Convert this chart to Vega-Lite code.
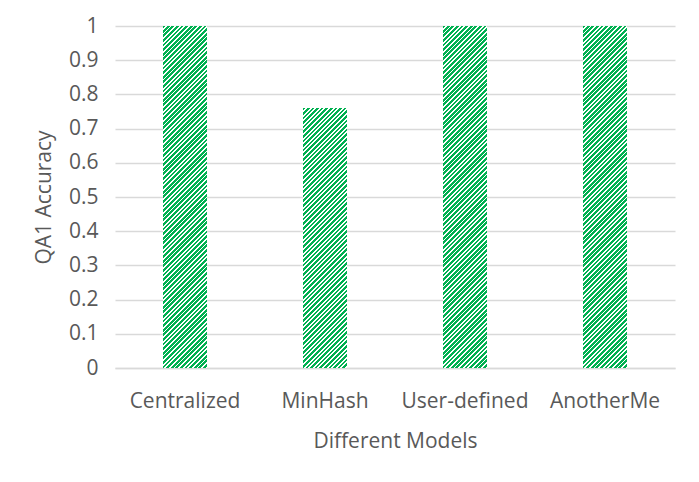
{
 "$schema": "https://vega.github.io/schema/vega-lite/v6.json",
 "width": 560,
 "height": 342,
 "autosize": {"type": "none"},
 "padding": {"left": 115, "top": 26, "right": 24, "bottom": 114},
 "background": "white",
 "config": {"view": {"stroke": null}, "font": "Open Sans"},
 "data": {"values": [
  {"model": "Centralized", "accuracy": 1},
  {"model": "MinHash", "accuracy": 0.76},
  {"model": "User-defined", "accuracy": 1},
  {"model": "AnotherMe", "accuracy": 1}
 ]},
 "mark": {"type": "bar"},
 "encoding": {
  "x": {"field": "model", "type": "nominal", "sort": null,
   "scale": {"paddingInner": 0.6857, "paddingOuter": 0.3429},
   "axis": {"title": "Different Models", "labelAngle": 0, "labelFont": "Open Sans", "labelFontSize": 21, "labelColor": "#595959", "labelPadding": 22, "ticks": false, "domainColor": "#d9d9d9", "domainWidth": 1.3, "titleFont": "Open Sans", "titleFontSize": 21, "titleFontWeight": "normal", "titleColor": "#595959", "titlePadding": 19}},
  "y": {"field": "accuracy", "type": "quantitative",
   "scale": {"domain": [0, 1], "nice": false},
   "axis": {"title": "QA1 Accuracy", "values": [0, 0.1, 0.2, 0.3, 0.4, 0.5, 0.6, 0.7, 0.8, 0.9, 1], "format": ".1~f", "labelFont": "Open Sans", "labelFontSize": 21, "labelColor": "#595959", "labelPadding": 17, "ticks": false, "domain": false, "grid": true, "gridColor": "#d9d9d9", "gridWidth": 1.3, "titleFont": "Open Sans", "titleFontSize": 21, "titleFontWeight": "normal", "titleColor": "#595959", "titlePadding": 14}},
  "fill": {
   "condition": {"test": "datum.accuracy < 1", "value": {"gradient": "linear", "x1": -0.00568, "y1": 0, "x2": 0.28557, "y2": 1.72048, "stops": [
{"offset":0,"color":"#00b050"},{"offset":0.006,"color":"#00b050"},{"offset":0.006,"color":"#fff"},{"offset":0.01,"color":"#fff"},
{"offset":0.01,"color":"#00b050"},{"offset":0.016,"color":"#00b050"},{"offset":0.016,"color":"#fff"},{"offset":0.02,"color":"#fff"},
{"offset":0.02,"color":"#00b050"},{"offset":0.026,"color":"#00b050"},{"offset":0.026,"color":"#fff"},{"offset":0.03,"color":"#fff"},
{"offset":0.03,"color":"#00b050"},{"offset":0.036,"color":"#00b050"},{"offset":0.036,"color":"#fff"},{"offset":0.04,"color":"#fff"},
{"offset":0.04,"color":"#00b050"},{"offset":0.046,"color":"#00b050"},{"offset":0.046,"color":"#fff"},{"offset":0.05,"color":"#fff"},
{"offset":0.05,"color":"#00b050"},{"offset":0.056,"color":"#00b050"},{"offset":0.056,"color":"#fff"},{"offset":0.06,"color":"#fff"},
{"offset":0.06,"color":"#00b050"},{"offset":0.066,"color":"#00b050"},{"offset":0.066,"color":"#fff"},{"offset":0.07,"color":"#fff"},
{"offset":0.07,"color":"#00b050"},{"offset":0.076,"color":"#00b050"},{"offset":0.076,"color":"#fff"},{"offset":0.08,"color":"#fff"},
{"offset":0.08,"color":"#00b050"},{"offset":0.086,"color":"#00b050"},{"offset":0.086,"color":"#fff"},{"offset":0.09,"color":"#fff"},
{"offset":0.09,"color":"#00b050"},{"offset":0.096,"color":"#00b050"},{"offset":0.096,"color":"#fff"},{"offset":0.1,"color":"#fff"},
{"offset":0.1,"color":"#00b050"},{"offset":0.106,"color":"#00b050"},{"offset":0.106,"color":"#fff"},{"offset":0.11,"color":"#fff"},
{"offset":0.11,"color":"#00b050"},{"offset":0.116,"color":"#00b050"},{"offset":0.116,"color":"#fff"},{"offset":0.12,"color":"#fff"},
{"offset":0.12,"color":"#00b050"},{"offset":0.126,"color":"#00b050"},{"offset":0.126,"color":"#fff"},{"offset":0.13,"color":"#fff"},
{"offset":0.13,"color":"#00b050"},{"offset":0.136,"color":"#00b050"},{"offset":0.136,"color":"#fff"},{"offset":0.14,"color":"#fff"},
{"offset":0.14,"color":"#00b050"},{"offset":0.146,"color":"#00b050"},{"offset":0.146,"color":"#fff"},{"offset":0.15,"color":"#fff"},
{"offset":0.15,"color":"#00b050"},{"offset":0.156,"color":"#00b050"},{"offset":0.156,"color":"#fff"},{"offset":0.16,"color":"#fff"},
{"offset":0.16,"color":"#00b050"},{"offset":0.166,"color":"#00b050"},{"offset":0.166,"color":"#fff"},{"offset":0.17,"color":"#fff"},
{"offset":0.17,"color":"#00b050"},{"offset":0.176,"color":"#00b050"},{"offset":0.176,"color":"#fff"},{"offset":0.18,"color":"#fff"},
{"offset":0.18,"color":"#00b050"},{"offset":0.186,"color":"#00b050"},{"offset":0.186,"color":"#fff"},{"offset":0.19,"color":"#fff"},
{"offset":0.19,"color":"#00b050"},{"offset":0.196,"color":"#00b050"},{"offset":0.196,"color":"#fff"},{"offset":0.2,"color":"#fff"},
{"offset":0.2,"color":"#00b050"},{"offset":0.206,"color":"#00b050"},{"offset":0.206,"color":"#fff"},{"offset":0.21,"color":"#fff"},
{"offset":0.21,"color":"#00b050"},{"offset":0.216,"color":"#00b050"},{"offset":0.216,"color":"#fff"},{"offset":0.22,"color":"#fff"},
{"offset":0.22,"color":"#00b050"},{"offset":0.226,"color":"#00b050"},{"offset":0.226,"color":"#fff"},{"offset":0.23,"color":"#fff"},
{"offset":0.23,"color":"#00b050"},{"offset":0.236,"color":"#00b050"},{"offset":0.236,"color":"#fff"},{"offset":0.24,"color":"#fff"},
{"offset":0.24,"color":"#00b050"},{"offset":0.246,"color":"#00b050"},{"offset":0.246,"color":"#fff"},{"offset":0.25,"color":"#fff"},
{"offset":0.25,"color":"#00b050"},{"offset":0.256,"color":"#00b050"},{"offset":0.256,"color":"#fff"},{"offset":0.26,"color":"#fff"},
{"offset":0.26,"color":"#00b050"},{"offset":0.266,"color":"#00b050"},{"offset":0.266,"color":"#fff"},{"offset":0.27,"color":"#fff"},
{"offset":0.27,"color":"#00b050"},{"offset":0.276,"color":"#00b050"},{"offset":0.276,"color":"#fff"},{"offset":0.28,"color":"#fff"},
{"offset":0.28,"color":"#00b050"},{"offset":0.286,"color":"#00b050"},{"offset":0.286,"color":"#fff"},{"offset":0.29,"color":"#fff"},
{"offset":0.29,"color":"#00b050"},{"offset":0.296,"color":"#00b050"},{"offset":0.296,"color":"#fff"},{"offset":0.3,"color":"#fff"},
{"offset":0.3,"color":"#00b050"},{"offset":0.306,"color":"#00b050"},{"offset":0.306,"color":"#fff"},{"offset":0.31,"color":"#fff"},
{"offset":0.31,"color":"#00b050"},{"offset":0.316,"color":"#00b050"},{"offset":0.316,"color":"#fff"},{"offset":0.32,"color":"#fff"},
{"offset":0.32,"color":"#00b050"},{"offset":0.326,"color":"#00b050"},{"offset":0.326,"color":"#fff"},{"offset":0.33,"color":"#fff"},
{"offset":0.33,"color":"#00b050"},{"offset":0.336,"color":"#00b050"},{"offset":0.336,"color":"#fff"},{"offset":0.34,"color":"#fff"},
{"offset":0.34,"color":"#00b050"},{"offset":0.346,"color":"#00b050"},{"offset":0.346,"color":"#fff"},{"offset":0.35,"color":"#fff"},
{"offset":0.35,"color":"#00b050"},{"offset":0.356,"color":"#00b050"},{"offset":0.356,"color":"#fff"},{"offset":0.36,"color":"#fff"},
{"offset":0.36,"color":"#00b050"},{"offset":0.366,"color":"#00b050"},{"offset":0.366,"color":"#fff"},{"offset":0.37,"color":"#fff"},
{"offset":0.37,"color":"#00b050"},{"offset":0.376,"color":"#00b050"},{"offset":0.376,"color":"#fff"},{"offset":0.38,"color":"#fff"},
{"offset":0.38,"color":"#00b050"},{"offset":0.386,"color":"#00b050"},{"offset":0.386,"color":"#fff"},{"offset":0.39,"color":"#fff"},
{"offset":0.39,"color":"#00b050"},{"offset":0.396,"color":"#00b050"},{"offset":0.396,"color":"#fff"},{"offset":0.4,"color":"#fff"},
{"offset":0.4,"color":"#00b050"},{"offset":0.406,"color":"#00b050"},{"offset":0.406,"color":"#fff"},{"offset":0.41,"color":"#fff"},
{"offset":0.41,"color":"#00b050"},{"offset":0.416,"color":"#00b050"},{"offset":0.416,"color":"#fff"},{"offset":0.42,"color":"#fff"},
{"offset":0.42,"color":"#00b050"},{"offset":0.426,"color":"#00b050"},{"offset":0.426,"color":"#fff"},{"offset":0.43,"color":"#fff"},
{"offset":0.43,"color":"#00b050"},{"offset":0.436,"color":"#00b050"},{"offset":0.436,"color":"#fff"},{"offset":0.44,"color":"#fff"},
{"offset":0.44,"color":"#00b050"},{"offset":0.446,"color":"#00b050"},{"offset":0.446,"color":"#fff"},{"offset":0.45,"color":"#fff"},
{"offset":0.45,"color":"#00b050"},{"offset":0.456,"color":"#00b050"},{"offset":0.456,"color":"#fff"},{"offset":0.46,"color":"#fff"},
{"offset":0.46,"color":"#00b050"},{"offset":0.466,"color":"#00b050"},{"offset":0.466,"color":"#fff"},{"offset":0.47,"color":"#fff"},
{"offset":0.47,"color":"#00b050"},{"offset":0.476,"color":"#00b050"},{"offset":0.476,"color":"#fff"},{"offset":0.48,"color":"#fff"},
{"offset":0.48,"color":"#00b050"},{"offset":0.486,"color":"#00b050"},{"offset":0.486,"color":"#fff"},{"offset":0.49,"color":"#fff"},
{"offset":0.49,"color":"#00b050"},{"offset":0.496,"color":"#00b050"},{"offset":0.496,"color":"#fff"},{"offset":0.5,"color":"#fff"},
{"offset":0.5,"color":"#00b050"},{"offset":0.506,"color":"#00b050"},{"offset":0.506,"color":"#fff"},{"offset":0.51,"color":"#fff"},
{"offset":0.51,"color":"#00b050"},{"offset":0.516,"color":"#00b050"},{"offset":0.516,"color":"#fff"},{"offset":0.52,"color":"#fff"},
{"offset":0.52,"color":"#00b050"},{"offset":0.526,"color":"#00b050"},{"offset":0.526,"color":"#fff"},{"offset":0.53,"color":"#fff"},
{"offset":0.53,"color":"#00b050"},{"offset":0.536,"color":"#00b050"},{"offset":0.536,"color":"#fff"},{"offset":0.54,"color":"#fff"},
{"offset":0.54,"color":"#00b050"},{"offset":0.546,"color":"#00b050"},{"offset":0.546,"color":"#fff"},{"offset":0.55,"color":"#fff"},
{"offset":0.55,"color":"#00b050"},{"offset":0.556,"color":"#00b050"},{"offset":0.556,"color":"#fff"},{"offset":0.56,"color":"#fff"},
{"offset":0.56,"color":"#00b050"},{"offset":0.566,"color":"#00b050"},{"offset":0.566,"color":"#fff"},{"offset":0.57,"color":"#fff"},
{"offset":0.57,"color":"#00b050"},{"offset":0.576,"color":"#00b050"},{"offset":0.576,"color":"#fff"},{"offset":0.58,"color":"#fff"},
{"offset":0.58,"color":"#00b050"},{"offset":0.586,"color":"#00b050"},{"offset":0.586,"color":"#fff"},{"offset":0.59,"color":"#fff"},
{"offset":0.59,"color":"#00b050"},{"offset":0.596,"color":"#00b050"},{"offset":0.596,"color":"#fff"},{"offset":0.6,"color":"#fff"},
{"offset":0.6,"color":"#00b050"},{"offset":0.606,"color":"#00b050"},{"offset":0.606,"color":"#fff"},{"offset":0.61,"color":"#fff"},
{"offset":0.61,"color":"#00b050"},{"offset":0.616,"color":"#00b050"},{"offset":0.616,"color":"#fff"},{"offset":0.62,"color":"#fff"},
{"offset":0.62,"color":"#00b050"},{"offset":0.626,"color":"#00b050"},{"offset":0.626,"color":"#fff"},{"offset":0.63,"color":"#fff"},
{"offset":0.63,"color":"#00b050"},{"offset":0.636,"color":"#00b050"},{"offset":0.636,"color":"#fff"},{"offset":0.64,"color":"#fff"},
{"offset":0.64,"color":"#00b050"},{"offset":0.646,"color":"#00b050"},{"offset":0.646,"color":"#fff"},{"offset":0.65,"color":"#fff"},
{"offset":0.65,"color":"#00b050"},{"offset":0.656,"color":"#00b050"},{"offset":0.656,"color":"#fff"},{"offset":0.66,"color":"#fff"},
{"offset":0.66,"color":"#00b050"},{"offset":0.666,"color":"#00b050"},{"offset":0.666,"color":"#fff"},{"offset":0.67,"color":"#fff"}
   ]}},
   "value": {"gradient": "linear", "x1": -0.00568, "y1": 0, "x2": 0.16455, "y2": 1.32313, "stops": [
{"offset":0,"color":"#00b050"},{"offset":0.006,"color":"#00b050"},{"offset":0.006,"color":"#fff"},{"offset":0.01,"color":"#fff"},
{"offset":0.01,"color":"#00b050"},{"offset":0.016,"color":"#00b050"},{"offset":0.016,"color":"#fff"},{"offset":0.02,"color":"#fff"},
{"offset":0.02,"color":"#00b050"},{"offset":0.026,"color":"#00b050"},{"offset":0.026,"color":"#fff"},{"offset":0.03,"color":"#fff"},
{"offset":0.03,"color":"#00b050"},{"offset":0.036,"color":"#00b050"},{"offset":0.036,"color":"#fff"},{"offset":0.04,"color":"#fff"},
{"offset":0.04,"color":"#00b050"},{"offset":0.046,"color":"#00b050"},{"offset":0.046,"color":"#fff"},{"offset":0.05,"color":"#fff"},
{"offset":0.05,"color":"#00b050"},{"offset":0.056,"color":"#00b050"},{"offset":0.056,"color":"#fff"},{"offset":0.06,"color":"#fff"},
{"offset":0.06,"color":"#00b050"},{"offset":0.066,"color":"#00b050"},{"offset":0.066,"color":"#fff"},{"offset":0.07,"color":"#fff"},
{"offset":0.07,"color":"#00b050"},{"offset":0.076,"color":"#00b050"},{"offset":0.076,"color":"#fff"},{"offset":0.08,"color":"#fff"},
{"offset":0.08,"color":"#00b050"},{"offset":0.086,"color":"#00b050"},{"offset":0.086,"color":"#fff"},{"offset":0.09,"color":"#fff"},
{"offset":0.09,"color":"#00b050"},{"offset":0.096,"color":"#00b050"},{"offset":0.096,"color":"#fff"},{"offset":0.1,"color":"#fff"},
{"offset":0.1,"color":"#00b050"},{"offset":0.106,"color":"#00b050"},{"offset":0.106,"color":"#fff"},{"offset":0.11,"color":"#fff"},
{"offset":0.11,"color":"#00b050"},{"offset":0.116,"color":"#00b050"},{"offset":0.116,"color":"#fff"},{"offset":0.12,"color":"#fff"},
{"offset":0.12,"color":"#00b050"},{"offset":0.126,"color":"#00b050"},{"offset":0.126,"color":"#fff"},{"offset":0.13,"color":"#fff"},
{"offset":0.13,"color":"#00b050"},{"offset":0.136,"color":"#00b050"},{"offset":0.136,"color":"#fff"},{"offset":0.14,"color":"#fff"},
{"offset":0.14,"color":"#00b050"},{"offset":0.146,"color":"#00b050"},{"offset":0.146,"color":"#fff"},{"offset":0.15,"color":"#fff"},
{"offset":0.15,"color":"#00b050"},{"offset":0.156,"color":"#00b050"},{"offset":0.156,"color":"#fff"},{"offset":0.16,"color":"#fff"},
{"offset":0.16,"color":"#00b050"},{"offset":0.166,"color":"#00b050"},{"offset":0.166,"color":"#fff"},{"offset":0.17,"color":"#fff"},
{"offset":0.17,"color":"#00b050"},{"offset":0.176,"color":"#00b050"},{"offset":0.176,"color":"#fff"},{"offset":0.18,"color":"#fff"},
{"offset":0.18,"color":"#00b050"},{"offset":0.186,"color":"#00b050"},{"offset":0.186,"color":"#fff"},{"offset":0.19,"color":"#fff"},
{"offset":0.19,"color":"#00b050"},{"offset":0.196,"color":"#00b050"},{"offset":0.196,"color":"#fff"},{"offset":0.2,"color":"#fff"},
{"offset":0.2,"color":"#00b050"},{"offset":0.206,"color":"#00b050"},{"offset":0.206,"color":"#fff"},{"offset":0.21,"color":"#fff"},
{"offset":0.21,"color":"#00b050"},{"offset":0.216,"color":"#00b050"},{"offset":0.216,"color":"#fff"},{"offset":0.22,"color":"#fff"},
{"offset":0.22,"color":"#00b050"},{"offset":0.226,"color":"#00b050"},{"offset":0.226,"color":"#fff"},{"offset":0.23,"color":"#fff"},
{"offset":0.23,"color":"#00b050"},{"offset":0.236,"color":"#00b050"},{"offset":0.236,"color":"#fff"},{"offset":0.24,"color":"#fff"},
{"offset":0.24,"color":"#00b050"},{"offset":0.246,"color":"#00b050"},{"offset":0.246,"color":"#fff"},{"offset":0.25,"color":"#fff"},
{"offset":0.25,"color":"#00b050"},{"offset":0.256,"color":"#00b050"},{"offset":0.256,"color":"#fff"},{"offset":0.26,"color":"#fff"},
{"offset":0.26,"color":"#00b050"},{"offset":0.266,"color":"#00b050"},{"offset":0.266,"color":"#fff"},{"offset":0.27,"color":"#fff"},
{"offset":0.27,"color":"#00b050"},{"offset":0.276,"color":"#00b050"},{"offset":0.276,"color":"#fff"},{"offset":0.28,"color":"#fff"},
{"offset":0.28,"color":"#00b050"},{"offset":0.286,"color":"#00b050"},{"offset":0.286,"color":"#fff"},{"offset":0.29,"color":"#fff"},
{"offset":0.29,"color":"#00b050"},{"offset":0.296,"color":"#00b050"},{"offset":0.296,"color":"#fff"},{"offset":0.3,"color":"#fff"},
{"offset":0.3,"color":"#00b050"},{"offset":0.306,"color":"#00b050"},{"offset":0.306,"color":"#fff"},{"offset":0.31,"color":"#fff"},
{"offset":0.31,"color":"#00b050"},{"offset":0.316,"color":"#00b050"},{"offset":0.316,"color":"#fff"},{"offset":0.32,"color":"#fff"},
{"offset":0.32,"color":"#00b050"},{"offset":0.326,"color":"#00b050"},{"offset":0.326,"color":"#fff"},{"offset":0.33,"color":"#fff"},
{"offset":0.33,"color":"#00b050"},{"offset":0.336,"color":"#00b050"},{"offset":0.336,"color":"#fff"},{"offset":0.34,"color":"#fff"},
{"offset":0.34,"color":"#00b050"},{"offset":0.346,"color":"#00b050"},{"offset":0.346,"color":"#fff"},{"offset":0.35,"color":"#fff"},
{"offset":0.35,"color":"#00b050"},{"offset":0.356,"color":"#00b050"},{"offset":0.356,"color":"#fff"},{"offset":0.36,"color":"#fff"},
{"offset":0.36,"color":"#00b050"},{"offset":0.366,"color":"#00b050"},{"offset":0.366,"color":"#fff"},{"offset":0.37,"color":"#fff"},
{"offset":0.37,"color":"#00b050"},{"offset":0.376,"color":"#00b050"},{"offset":0.376,"color":"#fff"},{"offset":0.38,"color":"#fff"},
{"offset":0.38,"color":"#00b050"},{"offset":0.386,"color":"#00b050"},{"offset":0.386,"color":"#fff"},{"offset":0.39,"color":"#fff"},
{"offset":0.39,"color":"#00b050"},{"offset":0.396,"color":"#00b050"},{"offset":0.396,"color":"#fff"},{"offset":0.4,"color":"#fff"},
{"offset":0.4,"color":"#00b050"},{"offset":0.406,"color":"#00b050"},{"offset":0.406,"color":"#fff"},{"offset":0.41,"color":"#fff"},
{"offset":0.41,"color":"#00b050"},{"offset":0.416,"color":"#00b050"},{"offset":0.416,"color":"#fff"},{"offset":0.42,"color":"#fff"},
{"offset":0.42,"color":"#00b050"},{"offset":0.426,"color":"#00b050"},{"offset":0.426,"color":"#fff"},{"offset":0.43,"color":"#fff"},
{"offset":0.43,"color":"#00b050"},{"offset":0.436,"color":"#00b050"},{"offset":0.436,"color":"#fff"},{"offset":0.44,"color":"#fff"},
{"offset":0.44,"color":"#00b050"},{"offset":0.446,"color":"#00b050"},{"offset":0.446,"color":"#fff"},{"offset":0.45,"color":"#fff"},
{"offset":0.45,"color":"#00b050"},{"offset":0.456,"color":"#00b050"},{"offset":0.456,"color":"#fff"},{"offset":0.46,"color":"#fff"},
{"offset":0.46,"color":"#00b050"},{"offset":0.466,"color":"#00b050"},{"offset":0.466,"color":"#fff"},{"offset":0.47,"color":"#fff"},
{"offset":0.47,"color":"#00b050"},{"offset":0.476,"color":"#00b050"},{"offset":0.476,"color":"#fff"},{"offset":0.48,"color":"#fff"},
{"offset":0.48,"color":"#00b050"},{"offset":0.486,"color":"#00b050"},{"offset":0.486,"color":"#fff"},{"offset":0.49,"color":"#fff"},
{"offset":0.49,"color":"#00b050"},{"offset":0.496,"color":"#00b050"},{"offset":0.496,"color":"#fff"},{"offset":0.5,"color":"#fff"},
{"offset":0.5,"color":"#00b050"},{"offset":0.506,"color":"#00b050"},{"offset":0.506,"color":"#fff"},{"offset":0.51,"color":"#fff"},
{"offset":0.51,"color":"#00b050"},{"offset":0.516,"color":"#00b050"},{"offset":0.516,"color":"#fff"},{"offset":0.52,"color":"#fff"},
{"offset":0.52,"color":"#00b050"},{"offset":0.526,"color":"#00b050"},{"offset":0.526,"color":"#fff"},{"offset":0.53,"color":"#fff"},
{"offset":0.53,"color":"#00b050"},{"offset":0.536,"color":"#00b050"},{"offset":0.536,"color":"#fff"},{"offset":0.54,"color":"#fff"},
{"offset":0.54,"color":"#00b050"},{"offset":0.546,"color":"#00b050"},{"offset":0.546,"color":"#fff"},{"offset":0.55,"color":"#fff"},
{"offset":0.55,"color":"#00b050"},{"offset":0.556,"color":"#00b050"},{"offset":0.556,"color":"#fff"},{"offset":0.56,"color":"#fff"},
{"offset":0.56,"color":"#00b050"},{"offset":0.566,"color":"#00b050"},{"offset":0.566,"color":"#fff"},{"offset":0.57,"color":"#fff"},
{"offset":0.57,"color":"#00b050"},{"offset":0.576,"color":"#00b050"},{"offset":0.576,"color":"#fff"},{"offset":0.58,"color":"#fff"},
{"offset":0.58,"color":"#00b050"},{"offset":0.586,"color":"#00b050"},{"offset":0.586,"color":"#fff"},{"offset":0.59,"color":"#fff"},
{"offset":0.59,"color":"#00b050"},{"offset":0.596,"color":"#00b050"},{"offset":0.596,"color":"#fff"},{"offset":0.6,"color":"#fff"},
{"offset":0.6,"color":"#00b050"},{"offset":0.606,"color":"#00b050"},{"offset":0.606,"color":"#fff"},{"offset":0.61,"color":"#fff"},
{"offset":0.61,"color":"#00b050"},{"offset":0.616,"color":"#00b050"},{"offset":0.616,"color":"#fff"},{"offset":0.62,"color":"#fff"},
{"offset":0.62,"color":"#00b050"},{"offset":0.626,"color":"#00b050"},{"offset":0.626,"color":"#fff"},{"offset":0.63,"color":"#fff"},
{"offset":0.63,"color":"#00b050"},{"offset":0.636,"color":"#00b050"},{"offset":0.636,"color":"#fff"},{"offset":0.64,"color":"#fff"},
{"offset":0.64,"color":"#00b050"},{"offset":0.646,"color":"#00b050"},{"offset":0.646,"color":"#fff"},{"offset":0.65,"color":"#fff"},
{"offset":0.65,"color":"#00b050"},{"offset":0.656,"color":"#00b050"},{"offset":0.656,"color":"#fff"},{"offset":0.66,"color":"#fff"},
{"offset":0.66,"color":"#00b050"},{"offset":0.666,"color":"#00b050"},{"offset":0.666,"color":"#fff"},{"offset":0.67,"color":"#fff"},
{"offset":0.67,"color":"#00b050"},{"offset":0.676,"color":"#00b050"},{"offset":0.676,"color":"#fff"},{"offset":0.68,"color":"#fff"},
{"offset":0.68,"color":"#00b050"},{"offset":0.686,"color":"#00b050"},{"offset":0.686,"color":"#fff"},{"offset":0.69,"color":"#fff"},
{"offset":0.69,"color":"#00b050"},{"offset":0.696,"color":"#00b050"},{"offset":0.696,"color":"#fff"},{"offset":0.7,"color":"#fff"},
{"offset":0.7,"color":"#00b050"},{"offset":0.706,"color":"#00b050"},{"offset":0.706,"color":"#fff"},{"offset":0.71,"color":"#fff"},
{"offset":0.71,"color":"#00b050"},{"offset":0.716,"color":"#00b050"},{"offset":0.716,"color":"#fff"},{"offset":0.72,"color":"#fff"},
{"offset":0.72,"color":"#00b050"},{"offset":0.726,"color":"#00b050"},{"offset":0.726,"color":"#fff"},{"offset":0.73,"color":"#fff"},
{"offset":0.73,"color":"#00b050"},{"offset":0.736,"color":"#00b050"},{"offset":0.736,"color":"#fff"},{"offset":0.74,"color":"#fff"},
{"offset":0.74,"color":"#00b050"},{"offset":0.746,"color":"#00b050"},{"offset":0.746,"color":"#fff"},{"offset":0.75,"color":"#fff"},
{"offset":0.75,"color":"#00b050"},{"offset":0.756,"color":"#00b050"},{"offset":0.756,"color":"#fff"},{"offset":0.76,"color":"#fff"},
{"offset":0.76,"color":"#00b050"},{"offset":0.766,"color":"#00b050"},{"offset":0.766,"color":"#fff"},{"offset":0.77,"color":"#fff"},
{"offset":0.77,"color":"#00b050"},{"offset":0.776,"color":"#00b050"},{"offset":0.776,"color":"#fff"},{"offset":0.78,"color":"#fff"},
{"offset":0.78,"color":"#00b050"},{"offset":0.786,"color":"#00b050"},{"offset":0.786,"color":"#fff"},{"offset":0.79,"color":"#fff"},
{"offset":0.79,"color":"#00b050"},{"offset":0.796,"color":"#00b050"},{"offset":0.796,"color":"#fff"},{"offset":0.8,"color":"#fff"},
{"offset":0.8,"color":"#00b050"},{"offset":0.806,"color":"#00b050"},{"offset":0.806,"color":"#fff"},{"offset":0.81,"color":"#fff"},
{"offset":0.81,"color":"#00b050"},{"offset":0.816,"color":"#00b050"},{"offset":0.816,"color":"#fff"},{"offset":0.82,"color":"#fff"},
{"offset":0.82,"color":"#00b050"},{"offset":0.826,"color":"#00b050"},{"offset":0.826,"color":"#fff"},{"offset":0.83,"color":"#fff"},
{"offset":0.83,"color":"#00b050"},{"offset":0.836,"color":"#00b050"},{"offset":0.836,"color":"#fff"},{"offset":0.84,"color":"#fff"},
{"offset":0.84,"color":"#00b050"},{"offset":0.846,"color":"#00b050"},{"offset":0.846,"color":"#fff"},{"offset":0.85,"color":"#fff"}
   ]}
  }
 }
}
